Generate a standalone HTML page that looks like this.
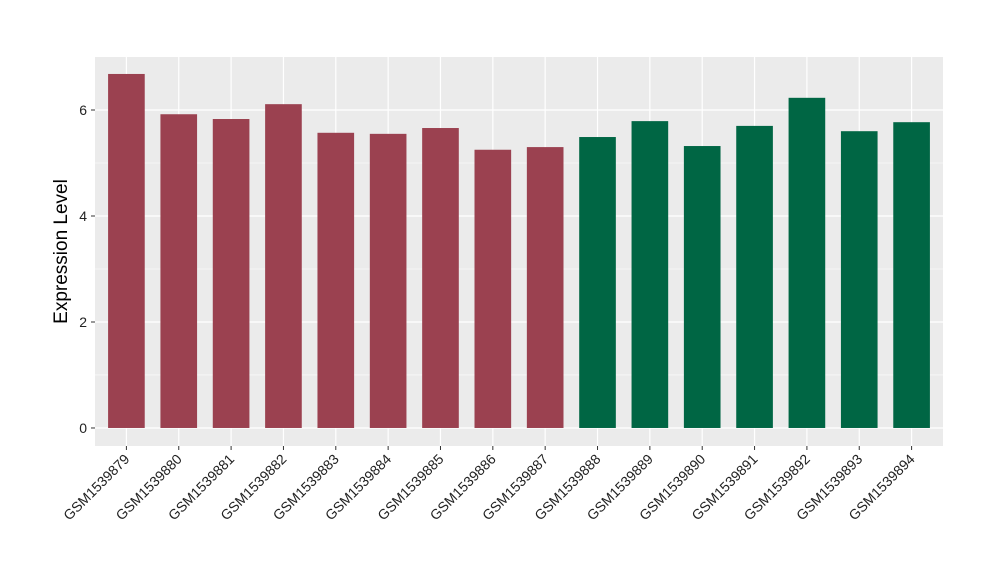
<!DOCTYPE html>
<html><head><meta charset="utf-8"><style>
body{margin:0;background:#fff}
svg{display:block;font-family:"Liberation Sans",Arial,sans-serif}
</style></head><body>
<svg id="chart" width="1000" height="580">
<rect x="95" y="57" width="848" height="389" fill="#ebebeb"/>
<g id="grid"></g><g id="bars"></g><g id="axes"></g>
<text transform="translate(67,251.5) rotate(-90)" text-anchor="middle" font-size="19" fill="#000">Expression Level</text>
</svg>
<script>
const categories=["GSM1539879","GSM1539880","GSM1539881","GSM1539882","GSM1539883","GSM1539884","GSM1539885","GSM1539886","GSM1539887","GSM1539888","GSM1539889","GSM1539890","GSM1539891","GSM1539892","GSM1539893","GSM1539894"];
const values=[6.68,5.92,5.83,6.11,5.57,5.55,5.66,5.25,5.30,5.49,5.79,5.32,5.70,6.23,5.60,5.77];
const groups=["a","a","a","a","a","a","a","a","a","b","b","b","b","b","b","b"];
const yTicks=[0,2,4,6];
const colors={a:"#9b4150",b:"#006644"};
const NS="http://www.w3.org/2000/svg";
const L=95,R=943,T=57,B=446;
const yMin=-0.34,yMax=7.0;
const y=v=>B-(v-yMin)/(yMax-yMin)*(B-T);
const step=(R-L)/(categories.length-1+1.2);
const x=i=>L+(0.6+i)*step;
const bw=step*0.7;
function mk(tag,attrs,parent){const e=document.createElementNS(NS,tag);for(const k in attrs)e.setAttribute(k,attrs[k]);document.getElementById(parent).appendChild(e);return e;}
for(let i=0;i<yTicks.length-1;i++){const v=(yTicks[i]+yTicks[i+1])/2;const e=mk("line",{x1:L,x2:R,y1:y(v),y2:y(v),stroke:"#fff","stroke-width":0.6},"grid");

}
yTicks.forEach(v=>{const e=mk("line",{x1:L,x2:R,y1:y(v),y2:y(v),stroke:"#fff","stroke-width":1.2},"grid");


const t=mk("text",{x:L-8,y:y(v)+5,"text-anchor":"end","font-size":14,fill:"#222"},"axes");t.textContent=v;


const tk=mk("line",{x1:L-4,x2:L,y1:y(v),y2:y(v),stroke:"#333","stroke-width":1},"axes");

});
categories.forEach((c,i)=>{const g=mk("line",{x1:x(i),x2:x(i),y1:T,y2:B,stroke:"#fff","stroke-width":1.2},"grid");


const r=mk("rect",{x:x(i)-bw/2,y:y(values[i]),width:bw,height:y(0)-y(values[i]),fill:colors[groups[i]]},"bars");


const tk=mk("line",{x1:x(i),x2:x(i),y1:B,y2:B+4,stroke:"#333","stroke-width":1},"axes");


const t=mk("text",{transform:`translate(${x(i)+4},${B+14}) rotate(-45)`,"text-anchor":"end","font-size":14,fill:"#222"},"axes");t.textContent=c;

});
</script>
</body></html>
